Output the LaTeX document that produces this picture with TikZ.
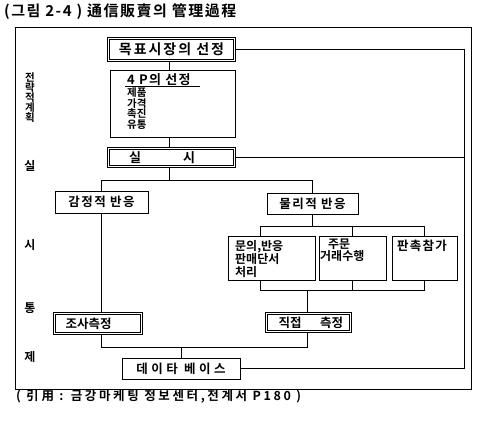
\documentclass[tikz,border=0pt]{standalone}
\usepackage{fontspec}
\setmainfont{Noto Sans CJK KR}[UprightFont=* Bold]
\newcommand{\lsp}[2]{{\addfontfeatures{LetterSpace=#1}#2}}
\newcommand{\fsz}[1]{\fontsize{#1}{#1}\selectfont}
\tikzset{
  ln/.style={line width=0.7pt},
  box/.style={draw, line width=0.7pt, inner sep=0pt},
  dbox/.style={box, double, double distance=1.3pt},
  txt/.style={inner sep=0pt},
}
\begin{document}
\begin{tikzpicture}[x=1pt,y=-1pt]
\useasboundingbox (0,0) rectangle (484,422);
% title and caption
\node[txt, anchor=west, font=\fsz{15}] (title) at (4,12) {\lsp{10}{(그림 2-4 ) 通信販賣의 管理過程}};
\node[txt, anchor=west, font=\fsz{12.5}] (caption) at (16,397) {\lsp{21}{( 引用 : 금강마케팅 정보센터,전계서 P180 )}};
% frame
\node[box, minimum width=456pt, minimum height=362pt] (frame) at (243,208) {};
% left labels
\node[txt, align=center, font=\fontsize{10.5}{9.8}\selectfont] (lv) at (30,97.5) {전\\략\\적\\계\\획};
\node[txt, font=\fsz{12}] (l1) at (30,166) {실};
\node[txt, font=\fsz{12}] (l2) at (30,245) {시};
\node[txt, font=\fsz{12}] (l3) at (30,308) {통};
\node[txt, font=\fsz{12}] (l4) at (30,357) {제};
% boxes
\node[dbox, minimum width=126pt, minimum height=22pt, font=\fsz{14}] (tgt) at (171.5,49.5) {\lsp{14}{목표시장의 선정}};
\node[box, minimum width=125pt, minimum height=67pt] (fourp) at (172.5,103.5) {};
\node[txt, anchor=west, font=\fsz{13}] (p0) at (127,79.5) {\lsp{10}{4 P의 선정}};
\coordinate (u1) at (125,86.5);
\coordinate (u2) at (200,86.5);
\draw[ln] (u1) -- (u2);
\node[txt, anchor=north west, align=left, font=\fontsize{10.5}{9}\selectfont] (plist) at (127,87.5) {제품\\가격\\촉진\\유통};
\node[dbox, minimum width=126pt, minimum height=18pt] (impl) at (171.5,157.5) {};
\node[txt, font=\fsz{13}] (impl1) at (135,157.5) {실};
\node[txt, font=\fsz{13}] (impl2) at (189,157.5) {시};
\node[box, minimum width=93pt, minimum height=22pt, font=\fsz{12.5}] (emo) at (101.5,202) {\lsp{12}{감정적 반응}};
\node[box, minimum width=91pt, minimum height=21pt, font=\fsz{12.5}] (phy) at (312.5,203.5) {\lsp{12}{물리적 반응}};
\node[box, minimum width=87pt, minimum height=44pt] (q) at (271.5,258) {};
\node[box, minimum width=67pt, minimum height=44pt] (ord) at (352.5,258) {};
\node[box, minimum width=65pt, minimum height=44pt] (promo) at (424.5,258) {};
\node[txt, anchor=north west, align=left, font=\fontsize{12}{10}\selectfont] (qt) at (235,240) {문의,반응\\판매단서\\처리};
\node[txt, anchor=north west, align=left, font=\fontsize{12}{12}\selectfont] (ot) at (320,239) {\hspace{8pt}주문\\거래수행};
\node[txt, anchor=west, font=\fsz{12.5}] (pr1) at (397,246) {\lsp{10}{판촉참가}};
\node[dbox, minimum width=87pt, minimum height=20pt] (mea1) at (98,323.5) {};
\node[txt, font=\fsz{12.5}] (mea1t) at (88.5,323.5) {조사측정};
\node[dbox, minimum width=84pt, minimum height=18pt] (mea2) at (308.5,322.5) {};
\node[txt, font=\fsz{12.5}] (mea2a) at (290,322.5) {직접};
\node[txt, font=\fsz{12.5}] (mea2b) at (331.5,322.5) {측정};
\node[box, minimum width=118pt, minimum height=21pt, font=\fsz{12.5}] (db) at (181,368.5) {\lsp{28}{데이타 베이스}};
% helper coordinates
\coordinate (tx) at (169,0);
\coordinate (br1) at (0,180);
\coordinate (ya) at (0,226);
\coordinate (yb) at (0,290);
\coordinate (yc) at (0,347);
\coordinate (qx) at (260,0);
\coordinate (mx) at (307,0);
\coordinate (rx) at (464,0);
% connectors
\draw[ln] (tgt.south -| tx) -- (fourp.north -| tx);
\draw[ln] (fourp.south -| tx) -- (impl.north -| tx);
\draw[ln] (impl.south -| tx) -- (tx |- br1);
\draw[ln] (emo.north) -- (emo.north |- br1) -- (phy.north |- br1) -- (phy.north);
\draw[ln] (emo.south) -- (emo.south |- mea1.north);
\draw[ln] (phy.south) -- (phy.south |- ya);
\draw[ln] (qx |- q.north) -- (qx |- ya) -- (promo.north |- ya) -- (promo.north);
\draw[ln] (ord.north |- ya) -- (ord.north);
\draw[ln] (qx |- q.south) -- (qx |- yb) -- (promo.south |- yb) -- (promo.south);
\draw[ln] (ord.south) -- (ord.south |- yb);
\draw[ln] (mx |- yb) -- (mx |- mea2.north);
\draw[ln] (emo.south |- mea1.south) -- (emo.south |- yc) -- (mx |- yc) -- (mx |- mea2.south);
\draw[ln] (db.north |- yc) -- (db.north);
\draw[ln] (tgt.east) -- (rx |- tgt.east) -- (rx |- db.east) -- (db.east);
\draw[ln] (impl.east) -- (rx |- impl.east);
\end{tikzpicture}
\end{document}
